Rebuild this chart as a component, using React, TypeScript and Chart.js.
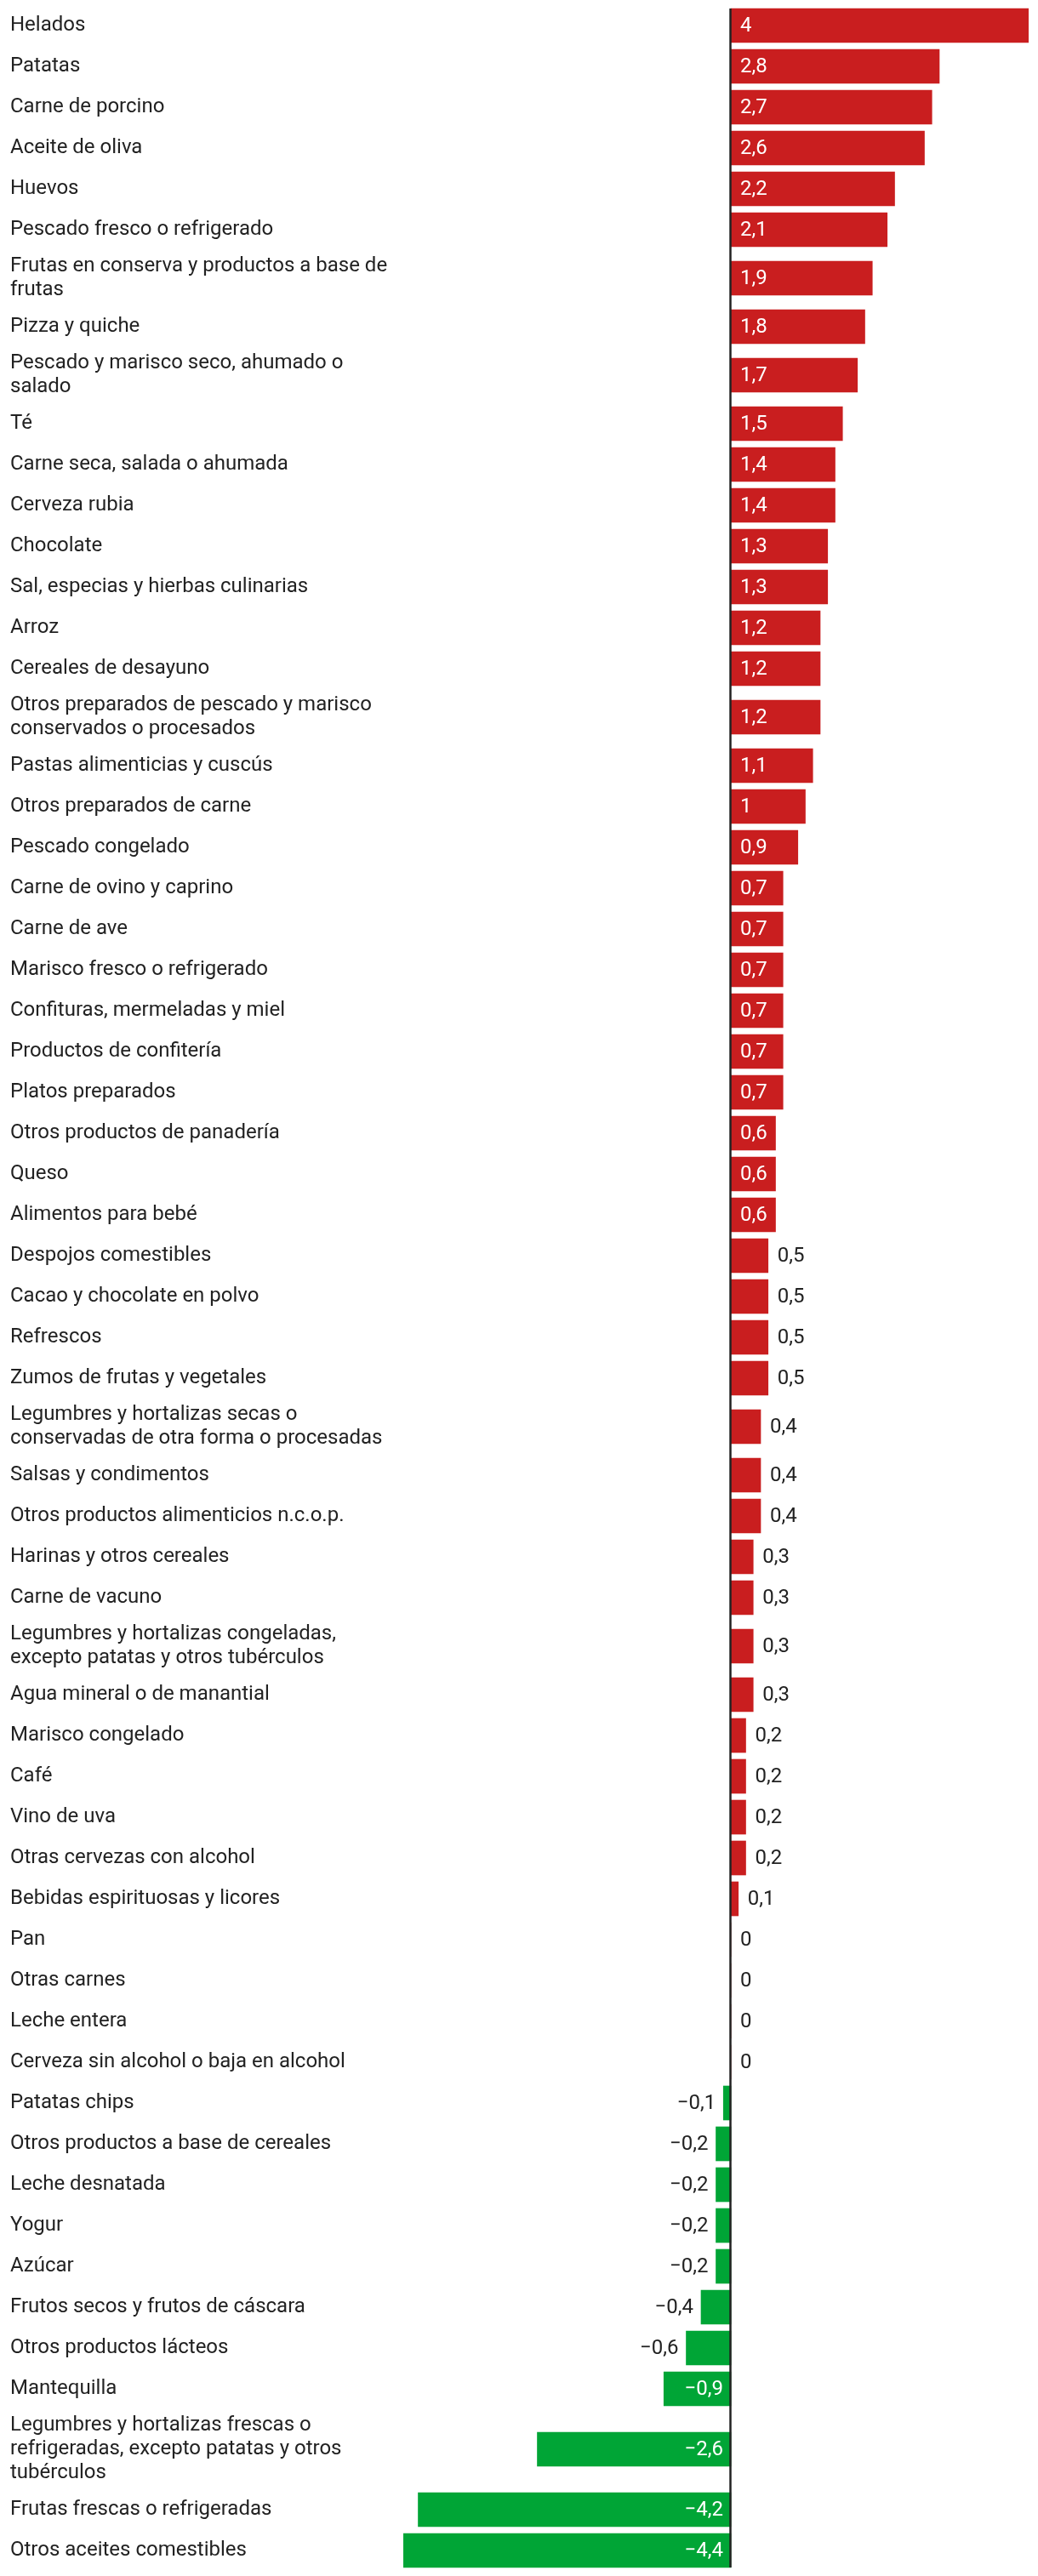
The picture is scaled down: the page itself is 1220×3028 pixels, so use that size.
import React, { useEffect, useRef } from "react";
import { Chart, registerables } from "chart.js";

Chart.register(...registerables);

const categories: string[][] = [
  ["Helados"],
  ["Patatas"],
  ["Carne de porcino"],
  ["Aceite de oliva"],
  ["Huevos"],
  ["Pescado fresco o refrigerado"],
  ["Frutas en conserva y productos a base de", "frutas"],
  ["Pizza y quiche"],
  ["Pescado y marisco seco, ahumado o", "salado"],
  ["Té"],
  ["Carne seca, salada o ahumada"],
  ["Cerveza rubia"],
  ["Chocolate"],
  ["Sal, especias y hierbas culinarias"],
  ["Arroz"],
  ["Cereales de desayuno"],
  ["Otros preparados de pescado y marisco", "conservados o procesados"],
  ["Pastas alimenticias y cuscús"],
  ["Otros preparados de carne"],
  ["Pescado congelado"],
  ["Carne de ovino y caprino"],
  ["Carne de ave"],
  ["Marisco fresco o refrigerado"],
  ["Confituras, mermeladas y miel"],
  ["Productos de confitería"],
  ["Platos preparados"],
  ["Otros productos de panadería"],
  ["Queso"],
  ["Alimentos para bebé"],
  ["Despojos comestibles"],
  ["Cacao y chocolate en polvo"],
  ["Refrescos"],
  ["Zumos de frutas y vegetales"],
  ["Legumbres y hortalizas secas o", "conservadas de otra forma o procesadas"],
  ["Salsas y condimentos"],
  ["Otros productos alimenticios n.c.o.p."],
  ["Harinas y otros cereales"],
  ["Carne de vacuno"],
  ["Legumbres y hortalizas congeladas,", "excepto patatas y otros tubérculos"],
  ["Agua mineral o de manantial"],
  ["Marisco congelado"],
  ["Café"],
  ["Vino de uva"],
  ["Otras cervezas con alcohol"],
  ["Bebidas espirituosas y licores"],
  ["Pan"],
  ["Otras carnes"],
  ["Leche entera"],
  ["Cerveza sin alcohol o baja en alcohol"],
  ["Patatas chips"],
  ["Otros productos a base de cereales"],
  ["Leche desnatada"],
  ["Yogur"],
  ["Azúcar"],
  ["Frutos secos y frutos de cáscara"],
  ["Otros productos lácteos"],
  ["Mantequilla"],
  ["Legumbres y hortalizas frescas o", "refrigeradas, excepto patatas y otros", "tubérculos"],
  ["Frutas frescas o refrigeradas"],
  ["Otros aceites comestibles"],
];

const values: number[] = [
  4, 2.8, 2.7, 2.6, 2.2, 2.1, 1.9, 1.8, 1.7, 1.5,
  1.4, 1.4, 1.3, 1.3, 1.2, 1.2, 1.2, 1.1, 1, 0.9,
  0.7, 0.7, 0.7, 0.7, 0.7, 0.7, 0.6, 0.6, 0.6, 0.5,
  0.5, 0.5, 0.5, 0.4, 0.4, 0.4, 0.3, 0.3, 0.3, 0.3,
  0.2, 0.2, 0.2, 0.2, 0.1, 0, 0, 0, 0, -0.1,
  -0.2, -0.2, -0.2, -0.2, -0.4, -0.6, -0.9, -2.6, -4.2, -4.4,
];

const X_MIN = -4.4;
const X_MAX = 4;

const RED = "#c91e1f";
const GREEN = "#00a536";
const TEXT = "#222222";
const LABEL_FONT = "24px Roboto";
const VALUE_FONT = "24px Roboto";
const LINE_H = 28;
const BAR_H = 40;

function rowHeight(lines: number): number {
  return Math.max(48, LINE_H * lines + 10);
}

function formatValue(v: number): string {
  const s = Math.abs(v).toString().replace(".", ",");
  return v < 0 ? "\u2212" + s : s;
}

export default function App() {
  const ref = useRef<HTMLCanvasElement | null>(null);

  useEffect(() => {
    document.body.style.margin = "0";
    let chart: Chart | null = null;
    let cancelled = false;

    // row layout derived from the wrapped labels
    const centers: number[] = [];
    let acc = 0;
    categories.forEach((c) => {
      const h = rowHeight(c.length);
      centers.push(acc + h / 2);
      acc += h;
    });
    const total = acc;

    const labelPlugin = {
      id: "labels",
      afterDatasetsDraw(ch: any) {
        const ctx = ch.ctx as CanvasRenderingContext2D;
        const meta = ch.getDatasetMeta(0);
        const xs = ch.scales.x;
        const zero = xs.getPixelForValue(0);
        ctx.save();
        // zero line
        const first = meta.data[0];
        const last = meta.data[meta.data.length - 1];
        ctx.strokeStyle = TEXT;
        ctx.lineWidth = 2.5;
        ctx.beginPath();
        ctx.moveTo(zero - 0.5, first.y - BAR_H / 2);
        ctx.lineTo(zero - 0.5, last.y + BAR_H / 2);
        ctx.stroke();

        meta.data.forEach((el: any, i: number) => {
          const y = el.y;
          // category labels
          ctx.font = LABEL_FONT;
          ctx.fillStyle = TEXT;
          ctx.textAlign = "left";
          ctx.textBaseline = "middle";
          const lines = categories[i];
          const startY = y - ((lines.length - 1) * LINE_H) / 2;
          lines.forEach((ln, k) => ctx.fillText(ln, 12, startY + k * LINE_H));

          // value labels
          const v = values[i];
          const txt = formatValue(v);
          ctx.font = VALUE_FONT;
          const tw = ctx.measureText(txt).width;
          const end = xs.getPixelForValue(v);
          const barW = Math.abs(end - zero);
          const inside = tw + 20 <= barW;
          if (v >= 0) {
            ctx.textAlign = "left";
            if (inside) {
              ctx.fillStyle = "#ffffff";
              ctx.fillText(txt, zero + 11, y + 1);
            } else {
              ctx.fillStyle = TEXT;
              ctx.fillText(txt, end + 11, y + 1);
            }
          } else {
            ctx.textAlign = "right";
            if (inside) {
              ctx.fillStyle = "#ffffff";
              ctx.fillText(txt, zero - 9, y + 1);
            } else {
              ctx.fillStyle = TEXT;
              ctx.fillText(txt, end - 9, y + 1);
            }
          }
        });
        ctx.restore();
      },
    };

    const build = () => {
      if (cancelled || !ref.current) return;
      chart = new Chart(ref.current, {
        type: "bar",
        data: {
          datasets: [
            {
              data: values.map((v, i) => ({ x: v, y: centers[i] })),
              backgroundColor: values.map((v) => (v >= 0 ? RED : GREEN)),
              borderWidth: 0,
              barThickness: BAR_H,
            } as any,
          ],
        },
        options: {
          indexAxis: "y",
          responsive: false,
          animation: false,
          devicePixelRatio: 1,
          layout: { padding: { left: 474, right: 11, top: 6, bottom: 6 } },
          scales: {
            x: { type: "linear", min: X_MIN, max: X_MAX, display: false, offset: false },
            y: {
              type: "linear",
              min: 0,
              max: total,
              reverse: true,
              display: false,
              offset: false,
              grid: { offset: false },
            },
          },
          plugins: {
            legend: { display: false },
            tooltip: { enabled: false },
          },
        },
        plugins: [labelPlugin],
      });
    };

    const fontsApi = (document as any).fonts;
    if (fontsApi && fontsApi.load) {
      Promise.all([fontsApi.load(LABEL_FONT), fontsApi.load(VALUE_FONT)])
        .catch(() => null)
        .then(build);
    } else {
      build();
    }

    return () => {
      cancelled = true;
      if (chart) chart.destroy();
    };
  }, []);

  return (
    <div style={{ width: 1220, height: 3028 }}>
      <canvas ref={ref} width={1220} height={3028} style={{ display: "block" }} />
    </div>
  );
}
